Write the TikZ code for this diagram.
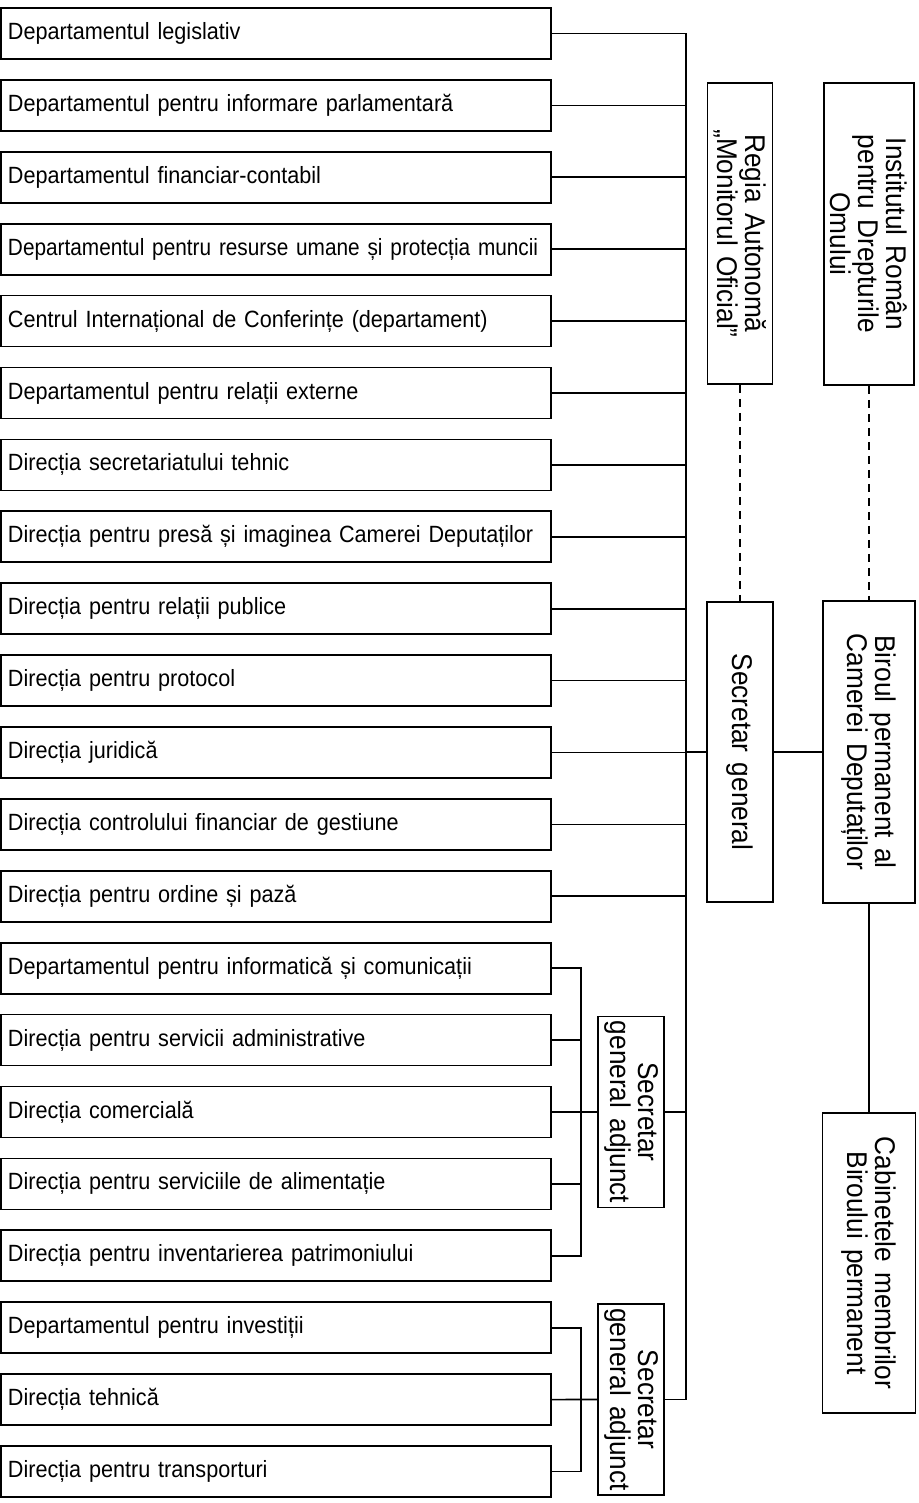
\documentclass[tikz,border=0pt]{standalone}
\usepackage{fontspec}
\setmainfont{Liberation Sans}[WordSpace=1.4,FakeStretch=0.92]
\newfontfamily\narrowfont{Liberation Sans}[WordSpace=1.4,FakeStretch=0.885]
\usetikzlibrary{calc}

\begin{document}
\begin{tikzpicture}[x=1pt,y=-1pt,line width=1.7pt,
    dept/.style={draw,text width=536pt,align=left,inner xsep=7pt,
        minimum height=51pt,font=\fontsize{23.5}{27}\selectfont},
    vbox/.style={draw,rotate=-90,align=center,inner sep=2pt,
        font=\fontsize{28.5}{28}\selectfont}]
    \useasboundingbox (0,0) rectangle (918,1503);
    \path (276,  33.5) node [dept] (d1) {Departamentul legislativ};
    \path (276, 105.4) node [dept] (d2) {Departamentul pentru informare parlamentară};
    \path (276, 177.3) node [dept] (d3) {Departamentul financiar-contabil};
    \path (276, 249.2) node [dept] (d4) {\narrowfont Departamentul pentru resurse umane și protecția muncii};
    \path (276, 321.1) node [dept] (d5) {Centrul Internațional de Conferințe (departament)};
    \path (276, 393.0) node [dept] (d6) {Departamentul pentru relații externe};
    \path (276, 464.9) node [dept] (d7) {Direcția secretariatului tehnic};
    \path (276, 536.8) node [dept] (d8) {Direcția pentru presă și imaginea Camerei Deputaților};
    \path (276, 608.7) node [dept] (d9) {Direcția pentru relații publice};
    \path (276, 680.6) node [dept] (d10) {Direcția pentru protocol};
    \path (276, 752.5) node [dept] (d11) {Direcția juridică};
    \path (276, 824.4) node [dept] (d12) {Direcția controlului financiar de gestiune};
    \path (276, 896.3) node [dept] (d13) {Direcția pentru ordine și pază};
    \path (276, 968.2) node [dept] (d14) {Departamentul pentru informatică și comunicații};
    \path (276,1040.1) node [dept] (d15) {Direcția pentru servicii administrative};
    \path (276,1112.0) node [dept] (d16) {Direcția comercială};
    \path (276,1183.9) node [dept] (d17) {Direcția pentru serviciile de alimentație};
    \path (276,1255.8) node [dept] (d18) {Direcția pentru inventarierea patrimoniului};
    \path (276,1327.7) node [dept] (d19) {Departamentul pentru investiții};
    \path (276,1399.6) node [dept] (d20) {Direcția tehnică};
    \path (276,1471.5) node [dept] (d21) {Direcția pentru transporturi};
    % right column, text turned
    \path (740, 233.5) node [vbox,minimum width=301pt,minimum height=65pt] (regia)
        {Regia Autonomă\\„Monitorul Oficial”};
    \path (869, 234.0) node [vbox,minimum width=302pt,minimum height=90pt] (irdo)
        {Institutul Român\\pentru Drepturile\\Omului};
    \path (740, 752.0) node [vbox,minimum width=300pt,minimum height=66pt] (sg)
        {Secretar general};
    \path (869, 752.0) node [vbox,minimum width=302pt,minimum height=92pt] (bp)
        {Biroul permanent al\\Camerei Deputaților};
    \path (869,1263.0) node [vbox,minimum width=300pt,minimum height=93pt] (cab)
        {Cabinetele membrilor\\Biroului permanent};
    \path (631,1112.0) node [vbox,minimum width=191pt,minimum height=66pt] (sga1)
        {Secretar\\general adjunct};
    \path (631,1399.5) node [vbox,minimum width=191pt,minimum height=66pt] (sga2)
        {Secretar\\general adjunct};
    \coordinate (trunk) at (686,0);
    \coordinate (brA) at (581,0);
    \coordinate (brB) at (581,0);
    \draw (d1.east) -| (trunk |- sga2) -- (sga2);
    \draw (d2.east) -- (d2.east -| trunk);
    \draw (d3.east) -- (d3.east -| trunk);
    \draw (d4.east) -- (d4.east -| trunk);
    \draw (d5.east) -- (d5.east -| trunk);
    \draw (d6.east) -- (d6.east -| trunk);
    \draw (d7.east) -- (d7.east -| trunk);
    \draw (d8.east) -- (d8.east -| trunk);
    \draw (d9.east) -- (d9.east -| trunk);
    \draw (d10.east) -- (d10.east -| trunk);
    \draw (d11.east) -- (d11.east -| trunk);
    \draw (d12.east) -- (d12.east -| trunk);
    \draw (d13.east) -- (d13.east -| trunk);
    \draw (sg) -- (sg -| trunk);
    \draw (sg) -- (bp);
    \draw (bp) -- (cab);
    \draw [dashed,dash pattern=on 8pt off 6pt] (regia) -- (sg);
    \draw [dashed,dash pattern=on 8pt off 6pt] (irdo) -- (bp);
    % first deputy
    \draw (d14.east) -| (brA |- d18) -- (d18.east);
    \draw (d15.east) -- (d15.east -| brA);
    \draw (d16.east) -- (sga1);
    \draw (d17.east) -- (d17.east -| brA);
    \draw (sga1) -- (sga1 -| trunk);
    % second deputy
    \draw (d19.east) -| (brB |- d21) -- (d21.east);
    \draw (d20.east) -- (sga2);
\end{tikzpicture}
\end{document}
